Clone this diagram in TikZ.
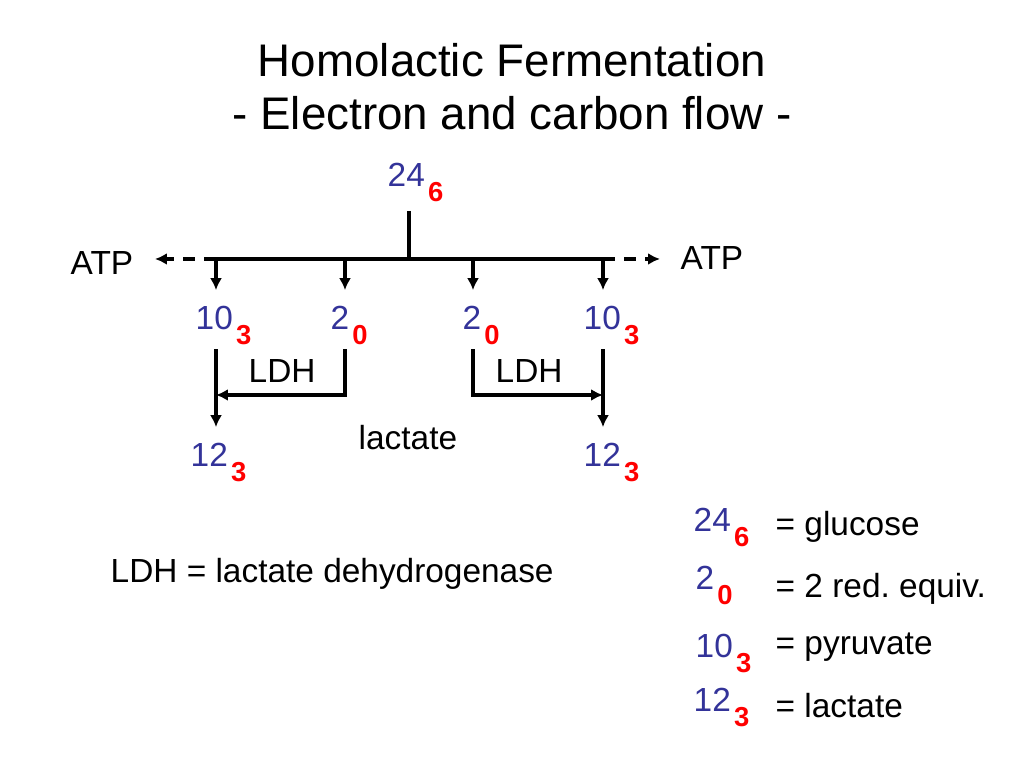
\documentclass[tikz,border=0pt]{standalone}
\usepackage{fontspec}
\setmainfont{Liberation Sans}
\usepackage{tikz}
\usetikzlibrary{arrows.meta, positioning, calc}
\usepackage{xcolor}
\definecolor{numblue}{RGB}{51,51,153}
\definecolor{numred}{RGB}{255,0,0}
\newcommand{\cnum}[2]{\textcolor{numblue}{#1}\hspace{0.9pt}\raisebox{-4.2pt}{\fontsize{7.8}{8}\selectfont\bfseries\textcolor{numred}{#2}}}
\tikzset{
  txt/.style={anchor=base west, inner sep=0pt, font=\fontsize{9.5}{11}\selectfont},
  ttl/.style={anchor=base, inner sep=0pt, font=\fontsize{13}{15}\selectfont},
  flow/.style={line width=0.95pt},
  arr/.style={flow, -{Latex[length=3.4pt,width=3.4pt]}},
  atparr/.style={arr, dash pattern=on 3.5pt off 2.5pt}
}

\begin{document}
\begin{tikzpicture}[x=0.01cm, y=-0.01cm]
  \useasboundingbox (0,0) rectangle (1024,768);
  \node[ttl] (title1) at (512,77) {Homolactic Fermentation};
  \node[ttl] (title2) at (512,130) {- Electron and carbon flow -};

  \node[txt] (glc) at (387,187) {\cnum{24}{6}};
  \node[txt] (atpL) at (70,275) {ATP};
  \node[txt] (atpR) at (680,270) {ATP};
  \node[txt] (pyrL) at (195,330) {\cnum{10}{3}};
  \node[txt] (redL) at (330,330) {\cnum{2}{0}};
  \node[txt] (redR) at (462,330) {\cnum{2}{0}};
  \node[txt] (pyrR) at (583,330) {\cnum{10}{3}};
  \node[txt] (ldhL) at (248,383) {LDH};
  \node[txt] (ldhR) at (495,383) {LDH};
  \node[txt] (lact) at (358,450) {lactate};
  \node[txt] (lacL) at (190,467) {\cnum{12}{3}};
  \node[txt] (lacR) at (583,467) {\cnum{12}{3}};

  \coordinate (hub) at (409,259);
  \coordinate (b1) at (216,259);
  \coordinate (b2) at (345,259);
  \coordinate (b3) at (473,259);
  \coordinate (b4) at (603,259);
  \coordinate (mL) at (216,395);
  \coordinate (mR) at (603,395);

  \draw[flow] (b1) -- (b4);
  \draw[flow, shorten <=2.3pt] (glc.south -| hub) -- (hub);
  \draw[atparr, shorten >=6pt] (b1) -- (atpL.east |- b1);
  \draw[atparr, shorten >=5.7pt] (b4) -- (atpR.west |- b4);
  \foreach \b/\n in {b1/pyrL, b2/redL, b3/redR, b4/pyrR}
    \draw[arr, shorten >=4.5pt] (\b) -- (\b |- \n.north);
  \draw[arr, shorten <=1pt, shorten >=4.5pt] (b1 |- pyrL.south) -- (b1 |- lacL.north);
  \draw[arr, shorten <=1pt, shorten >=4.5pt] (b4 |- pyrR.south) -- (b4 |- lacR.north);
  \draw[arr, shorten <=1pt] (b2 |- redL.south) |- (mL);
  \draw[arr, shorten <=1pt] (b3 |- redR.south) |- (mR);

  \node[txt] (note) at (110,583) {LDH = lactate dehydrogenase};

  \node[txt] (keyglc) at (693,532) {\cnum{24}{6}};
  \node[txt] (keyred) at (695,590) {\cnum{2}{0}};
  \node[txt] (keypyr) at (695,658) {\cnum{10}{3}};
  \node[txt] (keylac) at (693,712) {\cnum{12}{3}};
  \node[txt] (defglc) at (775,536) {= glucose};
  \node[txt] (defred) at (775,598) {= 2 red.\ equiv.};
  \node[txt] (defpyr) at (775,655) {= pyruvate};
  \node[txt] (deflac) at (775,718) {= lactate};
\end{tikzpicture}
\end{document}
